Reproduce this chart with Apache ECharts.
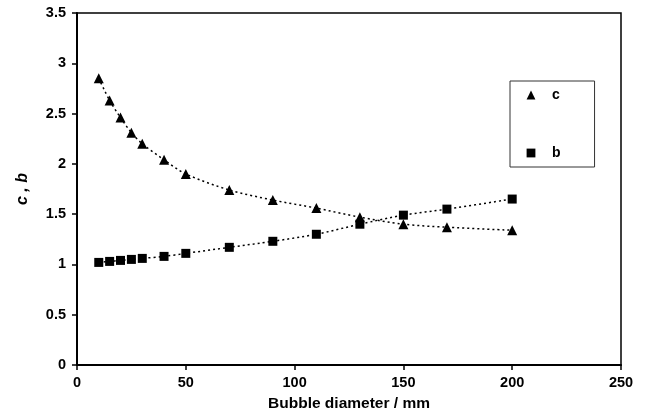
<!DOCTYPE html>
<html>
<head>
<meta charset="utf-8">
<script src="https://cdn.jsdelivr.net/npm/echarts@6/dist/echarts.min.js"></script>
<style>
  html, body { margin: 0; padding: 0; background: #fff; }
  #main { width: 656px; height: 417px; }
</style>
</head>
<body>
<div id="main"></div>
<script>
// bubble diameter (mm)
var diameters = [10, 15, 20, 25, 30, 40, 50, 70, 90, 110, 130, 150, 170, 200];
// coefficient c (triangles)
var cValues = [2.85, 2.63, 2.46, 2.31, 2.20, 2.04, 1.90, 1.74, 1.64, 1.56, 1.47, 1.40, 1.37, 1.34];
// coefficient b (squares)
var bValues = [1.02, 1.03, 1.04, 1.05, 1.06, 1.08, 1.11, 1.17, 1.23, 1.30, 1.40, 1.49, 1.55, 1.65];

function pairs(xs, ys) {
    return xs.map(function (x, i) { return [x, ys[i]]; });
}

var myChart = echarts.init(document.getElementById('main'));
var font = 'Liberation Sans, Arial, sans-serif';

myChart.setOption({
    animation: false,
    backgroundColor: '#fff',
    grid: {
        left: 77, right: 35, top: 13, bottom: 50,
        show: true, borderColor: '#000', borderWidth: 1.5
    },
    legend: {
        orient: 'vertical',
        left: 510, top: 81,
        padding: [7, 34, 7, 4],
        itemGap: 44,
        itemWidth: 32, itemHeight: 11,
        borderColor: '#333', borderWidth: 1,
        lineStyle: { opacity: 0 },
        textStyle: { fontFamily: font, fontSize: 14, fontWeight: 'bold', color: '#000' },
        data: ['c', 'b']
    },
    xAxis: {
        type: 'value',
        min: 0, max: 250, interval: 50,
        name: 'Bubble diameter / mm',
        nameLocation: 'middle',
        nameGap: 31,
        nameTextStyle: { fontFamily: font, fontSize: 15.5, fontWeight: 'bold', color: '#000' },
        axisLine: { lineStyle: { color: '#000', width: 2 } },
        axisTick: { show: true, inside: false, length: 5, lineStyle: { color: '#000', width: 1.5 } },
        axisLabel: { margin: 10, fontFamily: font, fontSize: 14.5, fontWeight: 'bold', color: '#000' },
        splitLine: { show: false }
    },
    yAxis: {
        type: 'value',
        min: 0, max: 3.5, interval: 0.5,
        name: 'c , b',
        nameLocation: 'middle',
        nameGap: 46,
        nameTextStyle: { fontFamily: font, fontSize: 16, fontWeight: 'bold', fontStyle: 'italic', color: '#000' },
        axisLine: { show: true, lineStyle: { color: '#000', width: 2 } },
        axisTick: { show: true, inside: false, length: 5, lineStyle: { color: '#000', width: 1.5 } },
        axisLabel: { margin: 11, fontFamily: font, fontSize: 14.5, fontWeight: 'bold', color: '#000' },
        splitLine: { show: false }
    },
    series: [
        {
            name: 'c',
            type: 'line',
            data: pairs(diameters, cValues),
            smooth: 0.3,
            symbol: 'triangle',
            symbolSize: 10,
            itemStyle: { color: '#000' },
            lineStyle: { color: '#000', width: 1.5, type: [2, 3] }
        },
        {
            name: 'b',
            type: 'line',
            data: pairs(diameters, bValues),
            smooth: 0.3,
            symbol: 'rect',
            symbolSize: 9,
            itemStyle: { color: '#000' },
            lineStyle: { color: '#000', width: 1.5, type: [2, 3] }
        }
    ]
});
</script>
</body>
</html>
